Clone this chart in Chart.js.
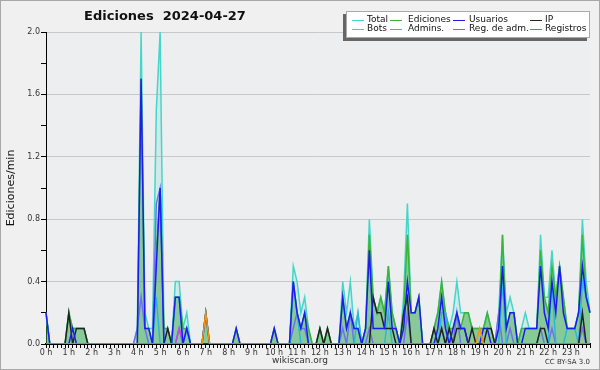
<!DOCTYPE html>
<html><head><meta charset="utf-8">
<script src="https://cdn.jsdelivr.net/npm/chart.js@4/dist/chart.umd.min.js"></script>
<style>html,body{margin:0;padding:0;background:#f0f0f0}</style>
</head><body>
<canvas id="c" width="600" height="370"></canvas>
<script>
// 10-minute slots (144) — values in edits/min
const hourLabels = Array.from({length:24},(_,h)=>h+' h');
const slots = Array.from({length:144},(_,i)=>String(Math.floor(i/6)).padStart(2,'0')+':'+String((i%6)*10).padStart(2,'0'));

const total = [
0.2,0,0,0,0,0,0.2,0.1,0.1,0.1,0.1,0,
0,0,0,0,0,0,0,0,0,0,0,0,
0.1,2.0,0.2,0.1,0.1,1.5,2.0,0.1,0.1,0,0.4,0.4,
0.1,0.2,0,0,0,0,0.2,0,0,0,0,0,
0,0,0.1,0,0,0,0,0,0,0,0,0,
0.1,0,0,0,0,0.5,0.4,0.2,0.3,0.1,0,0,
0.1,0,0.1,0,0,0,0.4,0.2,0.4,0.1,0.2,0,
0.1,0.8,0.3,0.2,0.3,0.2,0.5,0.2,0.1,0,0.3,0.9,
0.2,0.2,0.3,0,0,0,0.1,0.2,0.4,0.2,0.1,0.2,
0.4,0.2,0.2,0.2,0.1,0.1,0.1,0.1,0.2,0.1,0,0.2,
0.7,0.2,0.3,0.2,0,0.1,0.2,0.1,0.1,0.1,0.7,0.3,
0.3,0.6,0.3,0.5,0.3,0.1,0.1,0.1,0.2,0.8,0.4,0.2];

const ediciones = [
0.2,0,0,0,0,0,0.2,0.1,0.1,0.1,0.1,0,
0,0,0,0,0,0,0,0,0,0,0,0,
0,1.7,0.1,0.1,0,0.6,1.0,0.1,0.1,0,0.3,0.3,
0.1,0.1,0,0,0,0,0.2,0,0,0,0,0,
0,0,0.1,0,0,0,0,0,0,0,0,0,
0.1,0,0,0,0,0.4,0.2,0.1,0.2,0.1,0,0,
0.1,0,0.1,0,0,0,0.3,0.1,0.2,0.1,0.1,0,
0.1,0.7,0.3,0.2,0.3,0.2,0.5,0.2,0.1,0,0.2,0.7,
0.2,0.2,0.3,0,0,0,0.1,0.2,0.4,0.2,0.1,0.1,
0.2,0.1,0.2,0.2,0.1,0.1,0.1,0.1,0.2,0.1,0,0.1,
0.7,0.1,0.2,0.2,0,0.1,0.1,0.1,0.1,0.1,0.6,0.3,
0.2,0.5,0.3,0.5,0.3,0.1,0.1,0.1,0.2,0.7,0.3,0.2];

const usuarios = [
0.2,0,0,0,0,0,0,0.1,0,0,0,0,
0,0,0,0,0,0,0,0,0,0,0,0,
0,1.7,0.1,0.1,0,0.5,1.0,0,0,0,0.3,0.3,
0,0.1,0,0,0,0,0.2,0,0,0,0,0,
0,0,0.1,0,0,0,0,0,0,0,0,0,
0.1,0,0,0,0,0.4,0.2,0.1,0.2,0,0,0,
0,0,0,0,0,0,0.3,0.1,0.2,0.1,0.1,0,
0.1,0.6,0.1,0.1,0.1,0.1,0.4,0.1,0.1,0,0.1,0.4,
0.2,0.2,0.3,0,0,0,0,0.1,0.3,0.1,0,0.1,
0.2,0.1,0.1,0,0,0,0,0.1,0.1,0,0,0.1,
0.5,0.1,0.2,0.2,0,0,0.1,0.1,0.1,0.1,0.5,0.2,
0.1,0.4,0.2,0.5,0.2,0.1,0.1,0.1,0.2,0.5,0.3,0.2];

const ip = [
0,0,0,0,0,0,0.2,0,0.1,0.1,0.1,0,
0,0,0,0,0,0,0,0,0,0,0,0,
0,0,0,0,0,0,0,0,0.1,0,0,0,
0,0,0,0,0,0,0,0,0,0,0,0,
0,0,0,0,0,0,0,0,0,0,0,0,
0,0,0,0,0,0,0,0,0,0,0,0,
0.1,0,0.1,0,0,0,0,0,0,0,0,0,
0,0,0.3,0.2,0.2,0.1,0.1,0.1,0,0,0.2,0.3,
0,0,0,0,0,0,0.1,0,0.1,0,0.1,0,
0.1,0.1,0.1,0,0.1,0,0,0,0.1,0.1,0,0,
0,0,0,0,0,0,0,0,0,0,0.1,0.1,
0,0,0,0,0,0,0,0,0,0.2,0,0];

const bots = [
0,0,0,0,0,0,0,0,0,0,0,0,
0,0,0,0,0,0,0,0,0,0,0,0,
0,0,0,0,0,0,0,0,0,0,0,0,
0,0,0,0,0,0,0.2,0,0,0,0,0,
0,0,0,0,0,0,0,0,0,0,0,0,
0,0,0,0,0,0,0,0,0,0,0,0,
0,0,0,0,0,0,0,0,0,0,0,0,
0,0,0,0,0,0,0,0,0,0,0,0,
0,0,0,0,0,0,0,0,0,0,0,0,
0,0,0,0,0,0,0.1,0,0,0,0,0,
0,0,0,0,0,0,0,0,0,0,0,0,
0,0,0,0,0,0,0,0,0,0,0,0];

const admins = [
0.2,0,0,0,0,0,0,0,0,0,0,0,
0,0,0,0,0,0,0,0,0,0,0,0,
0,0,0,0,0,0.3,0,0,0,0,0.3,0.3,
0,0,0,0,0,0,0,0,0,0,0,0,
0,0,0,0,0,0,0,0,0,0,0,0,
0,0,0,0,0,0.4,0.2,0,0,0,0,0,
0,0,0,0,0,0,0,0,0,0,0.2,0,
0,0,0,0,0,0,0.2,0,0,0,0,0,
0,0,0,0,0,0,0,0,0.2,0.2,0,0,
0,0,0,0,0,0,0,0,0,0,0,0,
0.4,0,0,0,0,0,0,0,0,0,0,0,
0,0.4,0,0,0,0.1,0.1,0.1,0,0.4,0.3,0.2];

const regAdm = [
0,0,0,0,0,0,0,0,0,0,0,0,
0,0,0,0,0,0,0,0,0,0,0,0,
0,0,0,0,0,0,0,0,0,0,0,0.1,
0,0,0,0,0,0,0,0,0,0,0,0,
0,0,0,0,0,0,0,0,0,0,0,0,
0,0,0,0,0,0,0,0,0,0,0,0,
0,0,0,0,0,0,0,0,0,0,0,0,
0,0,0,0,0,0,0,0,0,0,0,0,
0,0,0,0,0,0,0,0,0,0,0,0,
0,0,0,0,0,0,0,0,0,0,0,0,
0,0,0,0,0,0,0,0,0,0,0,0,
0,0,0,0,0,0,0,0,0,0,0,0];

const registros = [
0,0,0,0,0,0,0,0,0,0,0,0,
0,0,0,0,0,0,0,0,0,0,0,0,
0.1,0.3,0.1,0,0,0.9,1.0,0,0,0,0,0.1,
0,0.1,0,0,0,0,0,0,0,0,0,0,
0,0,0,0,0,0,0,0,0,0,0,0,
0,0,0,0,0,0.1,0.2,0.1,0.1,0,0,0,
0,0,0,0,0,0,0.1,0,0.2,0,0,0,
0,0.1,0,0,0,0,0,0,0,0,0,0.2,
0,0,0,0,0,0,0,0,0.1,0,0,0,
0.2,0,0,0,0,0,0,0,0,0,0,0.2,
0,0,0.1,0,0,0,0,0,0,0,0.1,0,
0,0.1,0,0,0,0,0,0,0,0.1,0,0];

const yTickLabels = ['0.0','0.4','0.8','1.2','1.6','2.0'];

const seriesNames = ['Total','Ediciones','Usuarios','IP','Bots','Admins.','Reg. de adm.','Registros'];
const seriesColors = ['#44d6c8','#3cb43c','#1c1cf0','#222222','#f0960f','#2cb6dc','#c444e4','#7070f0'];

const F = 'DejaVu Sans, Verdana, sans-serif';

function ds(i, data, order, extra){
  return Object.assign({label:seriesNames[i], data, borderColor:seriesColors[i], borderWidth:1.5, pointRadius:0, tension:0, fill:false, order}, extra||{});
}

const bgPlugin = {
  id:'bg',
  beforeDraw(chart){
    const c = chart.ctx;
    c.save();
    c.fillStyle = '#f0f0f0';
    c.fillRect(0,0,chart.width,chart.height);
    const a = chart.chartArea;
    c.fillStyle = '#eceef0';
    c.fillRect(a.left,a.top,a.right-a.left,a.bottom-a.top);
    c.restore();
  },
  afterDraw(chart){
    const c = chart.ctx;
    c.save();
    c.strokeStyle = '#a8a8a8'; c.lineWidth = 1;
    c.strokeRect(0.5,0.5,chart.width-1,chart.height-1);
    c.fillStyle = '#111';
    c.font = 'bold 13px ' + F;
    c.textAlign = 'center'; c.textBaseline = 'middle';
    c.fillText('Ediciones  2024-04-27', 165, 17);
    c.save();
    c.translate(11, 188); c.rotate(-Math.PI/2);
    c.font = '11px ' + F; c.fillStyle = '#111';
    c.fillText('Ediciones/min', 0, 0);
    c.restore();
    c.font = '9px ' + F; c.fillStyle = '#333';
    c.fillText('wikiscan.org', 300, 361);
    c.font = '7px ' + F; c.textAlign = 'right';
    c.fillText('CC BY-SA 3.0', 590, 362);
    const bx=346, by=11, bw=244, bh=27;
    c.fillStyle = '#666';
    c.fillRect(bx-3, by+3, bw, bh);
    c.fillStyle = '#fff';
    c.fillRect(bx, by, bw, bh);
    c.strokeStyle = '#aaa';
    c.strokeRect(bx+0.5, by+0.5, bw-1, bh-1);
    const cols = [[352,367],[390,408],[453,469],[530,545]];
    const rows = [19.5, 29];
    c.font = '9px ' + F; c.textAlign = 'left'; c.textBaseline='middle';
    for (let k=0;k<8;k++){
      const col = cols[k%4], row = rows[Math.floor(k/4)];
      c.strokeStyle = seriesColors[k]; c.lineWidth = 1;
      c.beginPath(); c.moveTo(col[0], Math.round(row)+0.5); c.lineTo(col[0]+12, Math.round(row)+0.5); c.stroke();
      c.fillStyle = '#111';
      c.fillText(seriesNames[k], col[1], row);
    }
    c.restore();
  }
};

new Chart(document.getElementById('c'), {
  type:'line',
  data:{
    labels: slots,
    datasets:[
      ds(0, total, 10, {fill:'origin', backgroundColor:'rgba(70,210,195,0.16)'}),
      ds(1, ediciones, 9, {fill:'origin', backgroundColor:'rgba(40,160,50,0.44)'}),
      ds(7, registros, 8),
      ds(6, regAdm, 7),
      ds(5, admins, 6),
      ds(3, ip, 5),
      ds(2, usuarios, 4),
      ds(4, bots, 3)
    ]
  },
  options:{
    responsive:false, animation:false, devicePixelRatio:1,
    layout:{padding:{left:0,right:10,top:32,bottom:0}},
    plugins:{legend:{display:false}, tooltip:{enabled:false}, title:{display:false}},
    scales:{
      x:{
        ticks:{autoSkip:false, maxRotation:0, minRotation:0, padding:0, color:'#333', font:{size:8, family:F},
          callback:(v,i)=> i%6===0 ? hourLabels[i/6] : ''},
        grid:{drawOnChartArea:false, tickLength:4, tickColor:'#000', tickWidth:1},
        border:{color:'#000', width:2},
        afterFit:s=>{s.height=26;}
      },
      y:{
        min:0, max:2,
        ticks:{stepSize:0.2, padding:1, color:'#333', font:{size:8, family:F},
          callback:(v)=>{const k=Math.round(v*10); return k%4===0 ? yTickLabels[k/4] : '';}},
        grid:{tickLength:5, tickColor:'#000',
          color:(ctx)=>{ if(!ctx.tick) return 'rgba(0,0,0,0)'; const k=Math.round(ctx.tick.value*10); return (k%4===0 && k>0) ? '#c8c8c8' : 'rgba(0,0,0,0)';}},
        border:{color:'#000', width:1},
        afterFit:s=>{s.width=46;}
      }
    }
  },
  plugins:[bgPlugin]
});
</script>
</body></html>
